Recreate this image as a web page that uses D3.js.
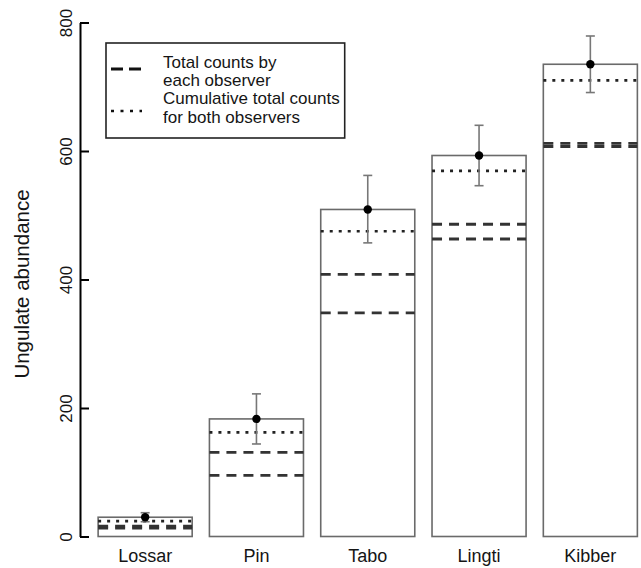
<!DOCTYPE html>
<html>
<head>
<meta charset="utf-8">
<script src="https://cdn.jsdelivr.net/npm/d3@7"></script>
<style>
  body { margin: 0; background: #fff; }
  text { font-family: "Liberation Sans", Arial, sans-serif; fill: #151515; }
</style>
</head>
<body>
<div id="chart"></div>
<script>
// values
const sites = ["Lossar", "Pin", "Tabo", "Lingti", "Kibber"];
const estimate = [30, 183, 509, 593, 735];
const lowerCI = [23, 144, 457, 546, 691];
const upperCI = [37, 222, 562, 640, 779];
const observerA = [13, 95, 348, 463, 607];
const observerB = [16, 131, 408, 486, 612];
const cumulative = [24, 162, 475, 569, 710];
const yTicks = [0, 200, 400, 600, 800];
const legendLabels = [
  ["Total counts by", "each observer"],
  ["Cumulative total counts", "for both observers"]
];

const width = 641, height = 568;

const svg = d3.select("#chart")
  .append("svg")
  .attr("width", width)
  .attr("height", height);

// Scales
const xScale = d3.scaleBand()
  .domain(sites)
  .range([89.5, 646])
  .paddingInner(0.155)
  .paddingOuter(0.0775);
const yScale = d3.scaleLinear().domain([0, 800]).range([536.5, 22.5]);

const rows = sites.map((s, i) => ({
  site: s,
  est: estimate[i],
  lo: lowerCI[i],
  hi: upperCI[i],
  a: observerA[i],
  b: observerB[i],
  cum: cumulative[i]
}));

// bars
svg.selectAll(".bar")
  .data(rows)
  .enter()
  .append("rect")
  .attr("class", "bar")
  .attr("x", d => xScale(d.site))
  .attr("y", d => yScale(d.est))
  .attr("width", xScale.bandwidth())
  .attr("height", d => yScale(0) - yScale(d.est))
  .attr("fill", "none")
  .attr("stroke", "#6a6a6a")
  .attr("stroke-width", 1.6);

// observer counts (dashed)
const dashed = rows.flatMap(d => [{ site: d.site, v: d.a }, { site: d.site, v: d.b }]);
svg.selectAll(".obs")
  .data(dashed)
  .enter()
  .append("line")
  .attr("class", "obs")
  .attr("x1", d => xScale(d.site))
  .attr("x2", d => xScale(d.site) + xScale.bandwidth())
  .attr("y1", d => yScale(d.v))
  .attr("y2", d => yScale(d.v))
  .attr("stroke", "#333")
  .attr("stroke-width", 2.8)
  .attr("stroke-dasharray", "10,7");

// cumulative counts (dotted)
svg.selectAll(".cum")
  .data(rows)
  .enter()
  .append("line")
  .attr("class", "cum")
  .attr("x1", d => xScale(d.site))
  .attr("x2", d => xScale(d.site) + xScale.bandwidth())
  .attr("y1", d => yScale(d.cum))
  .attr("y2", d => yScale(d.cum))
  .attr("stroke", "#222")
  .attr("stroke-width", 2.6)
  .attr("stroke-dasharray", "3,6");

// error bars
const cx = d => xScale(d.site) + xScale.bandwidth() / 2;
const err = svg.selectAll(".err")
  .data(rows)
  .enter()
  .append("g")
  .attr("class", "err")
  .attr("stroke", "#777")
  .attr("stroke-width", 1.6);
err.append("line")
  .attr("x1", cx).attr("x2", cx)
  .attr("y1", d => yScale(d.lo)).attr("y2", d => yScale(d.hi));
err.append("line")
  .attr("x1", d => cx(d) - 4.5).attr("x2", d => cx(d) + 4.5)
  .attr("y1", d => yScale(d.hi)).attr("y2", d => yScale(d.hi));
err.append("line")
  .attr("x1", d => cx(d) - 4.5).attr("x2", d => cx(d) + 4.5)
  .attr("y1", d => yScale(d.lo)).attr("y2", d => yScale(d.lo));

svg.selectAll(".dot")
  .data(rows)
  .enter()
  .append("circle")
  .attr("class", "dot")
  .attr("cx", cx)
  .attr("cy", d => yScale(d.est))
  .attr("r", 4.2)
  .attr("fill", "#000");

// y axis, ticks point inward like the original
const yAxis = d3.axisLeft(yScale)
  .tickValues(yTicks)
  .tickSizeInner(-9)
  .tickSizeOuter(0)
  .tickFormat(d3.format("d"));
const gy = svg.append("g")
  .attr("transform", "translate(80,0)")
  .call(yAxis);
gy.select(".domain").attr("stroke", "#000").attr("stroke-width", 2);
gy.selectAll(".tick line").attr("stroke", "#000").attr("stroke-width", 2);
gy.selectAll(".tick text")
  .attr("x", null)
  .attr("dy", null)
  .attr("transform", "translate(-8,0) rotate(-90)")
  .attr("text-anchor", "middle")
  .attr("font-size", 17)
  .style("font-family", "'Liberation Sans', Arial, sans-serif")
  .attr("fill", "#151515");

// x labels
svg.selectAll(".xlab")
  .data(sites)
  .enter()
  .append("text")
  .attr("class", "xlab")
  .attr("x", d => xScale(d) + xScale.bandwidth() / 2)
  .attr("y", 562)
  .attr("text-anchor", "middle")
  .attr("font-size", 18)
  .text(d => d);

// y title
svg.append("text")
  .attr("transform", "translate(29,284) rotate(-90)")
  .attr("text-anchor", "middle")
  .attr("font-size", 20.5)
  .text("Ungulate abundance");

// legend
const legend = svg.append("g");
const lineY = [62, 80, 98, 117];
const texts = legend.selectAll(".leg")
  .data(legendLabels.flat())
  .enter()
  .append("text")
  .attr("class", "leg")
  .attr("x", 163)
  .attr("y", (d, i) => lineY[i] + 6)
  .attr("font-size", 17)
  .text(d => d);
let maxW = 0;
texts.each(function () { maxW = Math.max(maxW, this.getComputedTextLength()); });
legend.insert("rect", ":first-child")
  .attr("x", 106)
  .attr("y", 43)
  .attr("width", 163 + maxW + 5 - 106)
  .attr("height", 95)
  .attr("fill", "#fff")
  .attr("stroke", "#222")
  .attr("stroke-width", 1.6);
legend.append("line")
  .attr("x1", 111).attr("x2", 142)
  .attr("y1", 69).attr("y2", 69)
  .attr("stroke", "#111").attr("stroke-width", 2.8)
  .attr("stroke-dasharray", "12,6");
legend.append("line")
  .attr("x1", 111).attr("x2", 142)
  .attr("y1", 111).attr("y2", 111)
  .attr("stroke", "#111").attr("stroke-width", 2.6)
  .attr("stroke-dasharray", "3,6.5");
</script>
</body>
</html>
